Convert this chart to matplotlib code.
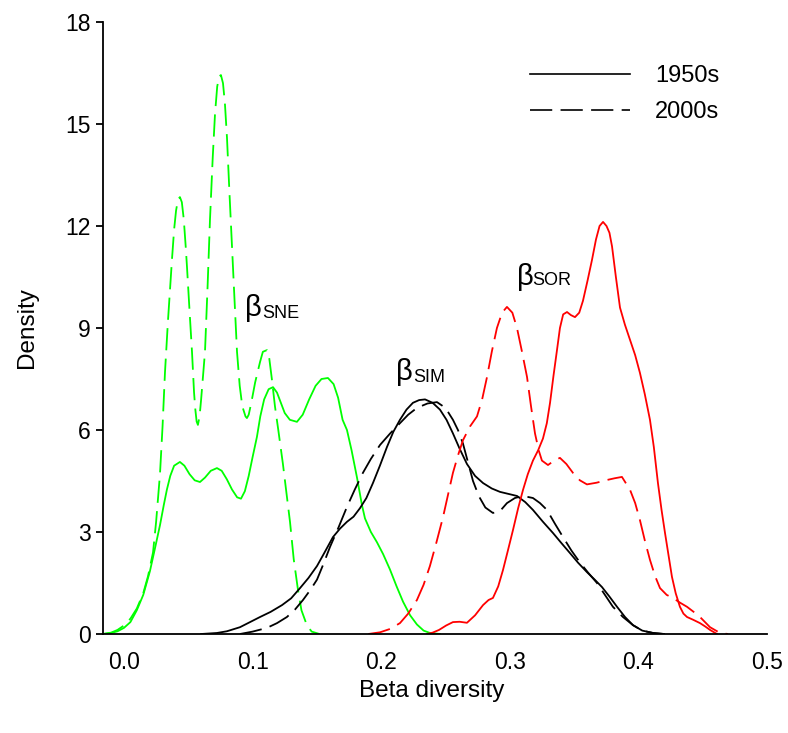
import numpy as np
import matplotlib
matplotlib.use('Agg')
import matplotlib.pyplot as plt
from matplotlib.lines import Line2D

plt.rcParams['font.family'] = ['Liberation Sans Narrow', 'Liberation Sans', 'DejaVu Sans']
plt.rcParams['lines.scale_dashes'] = False

# density curves
sne_1950_x = [-0.0163, -0.01, -0.005, 0.0, 0.005, 0.010, 0.015, 0.0202, 0.024, 0.028,
              0.031, 0.0334, 0.036, 0.039, 0.0435, 0.047, 0.051, 0.055, 0.0591, 0.063,
              0.0675, 0.0723, 0.076, 0.080, 0.084, 0.088, 0.091, 0.094, 0.097, 0.100,
              0.1034, 0.106, 0.109, 0.1125, 0.1159, 0.119, 0.122, 0.125, 0.129, 0.1345,
              0.139, 0.144, 0.149, 0.1536, 0.1586, 0.163, 0.1665, 0.170, 0.1734, 0.177,
              0.1812, 0.185, 0.1874, 0.192, 0.1967, 0.2015, 0.2068, 0.212, 0.217, 0.2225,
              0.2278, 0.233, 0.2379, 0.2457]
sne_1950_y = [0, 0.03, 0.08, 0.18, 0.35, 0.7, 1.15, 1.85, 2.5, 3.2,
              3.8, 4.25, 4.65, 4.95, 5.06, 4.95, 4.7, 4.52, 4.47, 4.6,
              4.8, 4.88, 4.8, 4.55, 4.25, 4.02, 3.98, 4.2, 4.65, 5.2,
              5.8, 6.4, 6.9, 7.2, 7.26, 7.1, 6.8, 6.5, 6.3, 6.24,
              6.45, 6.9, 7.3, 7.5, 7.53, 7.35, 6.95, 6.3, 6.0, 5.4,
              4.6, 3.8, 3.4, 3.0, 2.7, 2.35, 1.9, 1.4, 0.95, 0.55,
              0.28, 0.1, 0.03, 0]

sne_2000_x = [-0.0163, -0.01, -0.005, 0.0, 0.005, 0.010, 0.015, 0.0187, 0.0226, 0.025,
              0.028, 0.030, 0.0319, 0.0342, 0.0373, 0.039, 0.0405, 0.042, 0.0435, 0.045,
              0.0465, 0.048, 0.049, 0.051, 0.0529, 0.0545, 0.0555, 0.0565, 0.0575, 0.0588,
              0.060, 0.0615, 0.063, 0.065, 0.0669, 0.069, 0.0708, 0.0725, 0.074, 0.0754,
              0.077, 0.0785, 0.0801, 0.082, 0.084, 0.086, 0.0879, 0.090, 0.092, 0.0945,
              0.0956, 0.097, 0.099, 0.102, 0.1058, 0.108, 0.1112, 0.113, 0.115, 0.1174,
              0.120, 0.1236, 0.1265, 0.1291, 0.132, 0.1353, 0.138, 0.1423, 0.146, 0.152]
sne_2000_y = [0, 0.04, 0.12, 0.25, 0.45, 0.75, 1.2, 1.7, 2.4, 3.3,
              4.7, 6.1, 7.7, 9.2, 11.0, 11.9, 12.45, 12.78, 12.85, 12.7,
              12.2, 11.4, 10.8, 9.5, 8.3, 7.1, 6.6, 6.25, 6.15, 6.4,
              6.9, 7.6, 8.3, 10.2, 12.2, 14.0, 15.3, 16.1, 16.4, 16.44,
              16.2, 15.6, 14.6, 13.0, 11.4, 9.8, 8.3, 7.3, 6.7, 6.4,
              6.35, 6.45, 6.8, 7.4, 8.0, 8.3, 8.35, 8.1, 7.5, 6.7,
              6.0, 5.0, 4.1, 3.3, 2.2, 1.3, 0.7, 0.25, 0.07, 0]

sim_1950_x = [0.06, 0.0723, 0.080, 0.0902, 0.098, 0.1058, 0.114, 0.1229, 0.130, 0.1369,
              0.1435, 0.1501, 0.156, 0.1625, 0.168, 0.1734, 0.1785, 0.1835, 0.1885, 0.1936,
              0.199, 0.2045, 0.2095, 0.2146, 0.2197, 0.2247, 0.2295, 0.2341, 0.240, 0.2457,
              0.2508, 0.2558, 0.261, 0.2667, 0.273, 0.2792, 0.286, 0.2924, 0.299, 0.3056,
              0.312, 0.318, 0.3258, 0.3336, 0.340, 0.3468, 0.353, 0.36, 0.366, 0.3717,
              0.3775, 0.3834, 0.3896, 0.3958, 0.403, 0.4114, 0.42]
sim_1950_y = [0, 0.03, 0.08, 0.2, 0.35, 0.5, 0.65, 0.85, 1.05, 1.35,
              1.65, 2.0, 2.4, 2.85, 3.1, 3.3, 3.45, 3.7, 4.0, 4.44,
              4.95, 5.5, 5.95, 6.3, 6.6, 6.8, 6.88, 6.9, 6.8, 6.6,
              6.3, 5.9, 5.45, 5.0, 4.65, 4.44, 4.28, 4.18, 4.12, 4.06,
              3.88, 3.65, 3.3, 2.97, 2.68, 2.38, 2.1, 1.82, 1.6, 1.38,
              1.1, 0.8, 0.5, 0.26, 0.1, 0.03, 0]

sim_2000_x = [0.0902, 0.100, 0.1112, 0.119, 0.1267, 0.133, 0.1392, 0.145, 0.1501, 0.155,
              0.1602, 0.167, 0.1734, 0.1795, 0.1858, 0.192, 0.1991, 0.207, 0.2146, 0.221,
              0.2278, 0.236, 0.2434, 0.250, 0.2558, 0.2597, 0.2636, 0.2675, 0.2714, 0.276,
              0.281, 0.2869, 0.2925, 0.2978, 0.304, 0.3103, 0.318, 0.3235, 0.3289, 0.335,
              0.3414, 0.348, 0.3546, 0.361, 0.3678, 0.374, 0.3802, 0.388, 0.3958, 0.403,
              0.4114, 0.42]
sim_2000_y = [0, 0.07, 0.18, 0.32, 0.5, 0.72, 1.0, 1.3, 1.6, 2.05,
              2.56, 3.15, 3.74, 4.25, 4.74, 5.15, 5.56, 5.9, 6.2, 6.45,
              6.65, 6.78, 6.82, 6.65, 6.3, 6.0, 5.6, 5.05, 4.5, 4.05,
              3.72, 3.56, 3.62, 3.85, 4.0, 4.06, 4.0, 3.85, 3.65, 3.25,
              2.85, 2.45, 2.1, 1.8, 1.5, 1.15, 0.8, 0.5, 0.26, 0.1,
              0.03, 0]

sor_1950_x = [0.2356, 0.24, 0.245, 0.2505, 0.2558, 0.261, 0.2667, 0.273, 0.2792, 0.2835,
              0.2869, 0.291, 0.2947, 0.2985, 0.3025, 0.3065, 0.3103, 0.314, 0.318, 0.322,
              0.3258, 0.3288, 0.3313, 0.334, 0.3367, 0.339, 0.3415, 0.3445, 0.3475, 0.3507,
              0.354, 0.3569, 0.3605, 0.3639, 0.367, 0.3698, 0.3725, 0.3752, 0.3775, 0.3795,
              0.3825, 0.3857, 0.3895, 0.3935, 0.3975, 0.4012, 0.405, 0.409, 0.412, 0.4152,
              0.418, 0.4207, 0.4235, 0.4261, 0.429, 0.4323, 0.435, 0.4378, 0.4425, 0.4479,
              0.452, 0.4557, 0.4611]
sor_1950_y = [0, 0.04, 0.12, 0.25, 0.35, 0.36, 0.33, 0.55, 0.85, 1.0,
              1.06, 1.4, 1.88, 2.45, 3.06, 3.7, 4.24, 4.7, 5.1, 5.4,
              5.75, 6.2, 6.8, 7.6, 8.35, 9.0, 9.4, 9.47, 9.38, 9.32,
              9.45, 9.8, 10.4, 11.0, 11.6, 12.0, 12.12, 12.0, 11.8, 11.4,
              10.5, 9.6, 9.1, 8.65, 8.2, 7.68, 7.05, 6.3, 5.5, 4.44,
              3.65, 2.97, 2.3, 1.68, 1.2, 0.8, 0.6, 0.5, 0.42, 0.32,
              0.22, 0.12, 0]

sor_2000_x = [0.19, 0.1991, 0.207, 0.2146, 0.221, 0.2278, 0.233, 0.2379, 0.243, 0.2481,
              0.252, 0.2558, 0.2597, 0.2636, 0.269, 0.2745, 0.2785, 0.2823, 0.286, 0.29,
              0.294, 0.2978, 0.302, 0.3056, 0.3095, 0.3134, 0.3165, 0.3196, 0.3225, 0.325,
              0.3297, 0.3345, 0.339, 0.344, 0.3491, 0.3545, 0.36, 0.3675, 0.3756, 0.3815,
              0.3872, 0.3935, 0.3975, 0.4012, 0.405, 0.409, 0.413, 0.4168, 0.422, 0.4269,
              0.432, 0.4378, 0.443, 0.4479, 0.4557, 0.4635, 0.4697]
sor_2000_y = [0, 0.05, 0.15, 0.32, 0.6, 1.0, 1.45, 2.0, 2.7, 3.44,
              4.1, 4.74, 5.25, 5.7, 6.1, 6.4, 6.9, 7.56, 8.3, 9.0,
              9.45, 9.62, 9.45, 9.0, 8.3, 7.56, 6.7, 5.9, 5.4, 5.1,
              4.97, 5.1, 5.18, 5.0, 4.74, 4.52, 4.4, 4.45, 4.53, 4.58,
              4.62, 4.24, 3.85, 3.35, 2.75, 2.18, 1.7, 1.35, 1.15, 1.06,
              0.93, 0.8, 0.65, 0.5, 0.2, 0.03, 0]

y_ticks = [0, 3, 6, 9, 12, 15, 18]
x_ticks = [0.0, 0.1, 0.2, 0.3, 0.4, 0.5]

green = '#00ff00'
red = '#ff0000'
lw = 1.3
dash = (16, 6)

fig = plt.figure(figsize=(7.88, 7.33), dpi=100)
ax = fig.add_axes([103 / 788, 1 - 634 / 733, 664 / 788, 612 / 733])

ax.plot(sne_1950_x, sne_1950_y, color=green, lw=lw)
ax.plot(sne_2000_x, sne_2000_y, color=green, lw=lw, dashes=dash)
ax.plot(sim_1950_x, sim_1950_y, color='black', lw=lw)
ax.plot(sim_2000_x, sim_2000_y, color='black', lw=lw, dashes=dash)
ax.plot(sor_1950_x, sor_1950_y, color=red, lw=lw)
ax.plot(sor_2000_x, sor_2000_y, color=red, lw=lw, dashes=dash)

ax.set_xlim(-0.0163, 0.5)
ax.set_ylim(0, 18)
ax.set_xticks(x_ticks)
ax.set_xticklabels(['%.1f' % v for v in x_ticks])
ax.set_yticks(y_ticks)
ax.spines['top'].set_visible(False)
ax.spines['right'].set_visible(False)
for s in ['left', 'bottom']:
    ax.spines[s].set_linewidth(1.3)
ax.tick_params(axis='x', length=0, pad=12, labelsize=16.5)
ax.tick_params(axis='y', length=5, width=1.3, pad=4, labelsize=16.5)

ax.set_xlabel('Beta diversity', fontsize=17.5)
ax.set_ylabel('Density', fontsize=17.5)
ax.xaxis.set_label_coords(0.495, -0.075)
ax.yaxis.set_label_coords(-0.098, 0.5)

# beta labels: big beta plus smaller suffix
labels = [('SNE', 0.094, 9.35, 0.1078, 9.29),
          ('SIM', 0.2115, 7.47, 0.2247, 7.41),
          ('SOR', 0.3056, 10.26, 0.3173, 10.26)]
for sub, bx, by, sx, sy in labels:
    ax.text(bx, by, 'β', fontsize=21, va='baseline', ha='left')
    ax.text(sx, sy, sub, fontsize=13, va='baseline', ha='left')

handles = [Line2D([], [], color='black', lw=1.2),
           Line2D([], [], color='black', lw=1.2, dashes=dash)]
ax.legend(handles, ['1950s', '2000s'], loc='upper left', bbox_to_anchor=(0.643, 0.93),
          frameon=False, fontsize=17, handlelength=4.24, handletextpad=1.06,
          labelspacing=0.62, borderpad=0, borderaxespad=0)

plt.savefig('out.png', dpi=100)
